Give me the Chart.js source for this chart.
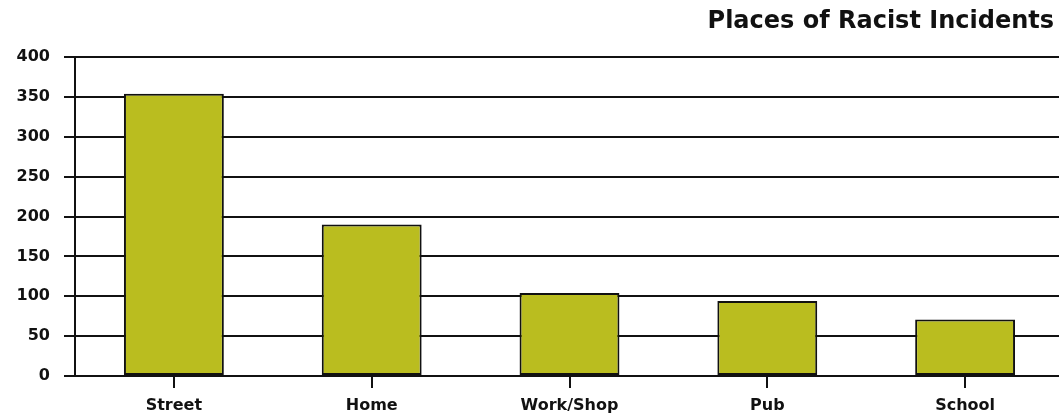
<!DOCTYPE html>
<html>
<head>
<meta charset="utf-8">
<script src="https://cdn.jsdelivr.net/npm/chart.js@4/dist/chart.umd.min.js"></script>
<style>
  html, body { margin: 0; padding: 0; background: #fff; overflow: hidden; }
  #wrap { position: relative; width: 1059px; height: 417px; overflow: hidden; }
  #title {
    position: absolute; top: 5px; right: 5px;
    font: bold 24px "DejaVu Sans", Verdana, sans-serif; color: #111;
    line-height: 30px; white-space: nowrap;
  }
  canvas { position: absolute; left: 0; top: 0; }
</style>
</head>
<body>
<div id="wrap">
  <canvas id="placesChart" width="1064" height="417"></canvas>
  <div id="title">Places of Racist Incidents</div>
</div>
<script>
// incidents by location
const places = ['Street', 'Home', 'Work/Shop', 'Pub', 'School'];
const incidents = [354, 190, 104, 94, 71];
const yTicks = [0, 50, 100, 150, 200, 250, 300, 350, 400];

const tickFont = { family: '"DejaVu Sans", Verdana, sans-serif', size: 16, weight: 'bold' };

const ctx = document.getElementById('placesChart').getContext('2d');

new Chart(ctx, {
    type: 'bar',
    data: {
        labels: places,
        datasets: [{
            data: incidents,
            backgroundColor: '#babd1f',
            borderColor: '#111',
            borderWidth: 2,
            borderSkipped: false,
            categoryPercentage: 1,
            barPercentage: 0.505
        }]
    },
    options: {
        responsive: false,
        animation: false,
        layout: { padding: { top: 57, left: 0, right: 0, bottom: 0 } },
        plugins: {
            legend: { display: false },
            tooltip: { enabled: false }
        },
        scales: {
            x: {
                grid: { drawOnChartArea: false, offset: false, color: '#111', lineWidth: 2, tickLength: 12 },
                border: { display: false },
                ticks: { color: '#111', font: tickFont, padding: 8 },
                afterFit: scale => { scale.height = 41; }
            },
            y: {
                min: 0,
                max: 400,
                afterBuildTicks: scale => { scale.ticks = yTicks.map(v => ({ value: v })); },
                grid: { color: '#111', lineWidth: 2, tickLength: 11 },
                border: { color: '#111', width: 2 },
                ticks: { color: '#111', font: tickFont, padding: 14 },
                afterFit: scale => { scale.width = 75; }
            }
        }
    }
});
</script>
</body>
</html>
